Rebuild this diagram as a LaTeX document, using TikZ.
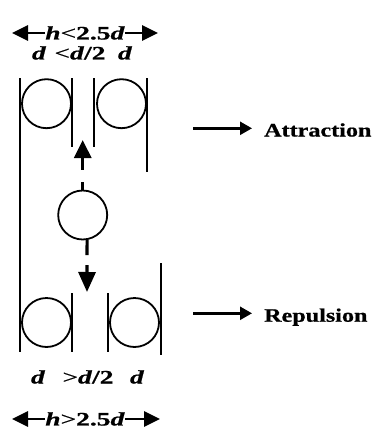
\documentclass[tikz,border=0pt]{standalone}
\usepackage{fontspec}
\setmainfont{Liberation Serif}[FakeStretch=1.27,FakeBold=0.8]
\newfontfamily\labfont{Liberation Serif}[FakeStretch=1.45,FakeBold=0.8]
\usetikzlibrary{arrows.meta}
\begin{document}
\begin{tikzpicture}[x=1pt,y=-1pt,
  wall/.style={line width=2pt},
  ball/.style={circle,draw,line width=1.8pt,minimum size=49pt,inner sep=0pt},
  lbl/.style={font=\fontsize{19}{22}\selectfont\bfseries,inner sep=0pt},
  dlbl/.style={font=\labfont\fontsize{19}{22}\selectfont\bfseries,inner sep=0pt},
  dimarrow/.style={line width=2.8pt,-{Triangle[length=16pt,width=15pt]}},
  forcearrow/.style={line width=2.4pt,-{Triangle[length=12pt,width=13pt]}},
  moveup/.style={line width=3pt,-{Triangle[length=18pt,width=17pt]}},
  movedown/.style={line width=3.2pt,-{Triangle[length=20pt,width=17pt]}}
]
\useasboundingbox (0,0) rectangle (373,431);
% top dimension
\node[dlbl] (t1) at (85,33) {\textit{h}{\mdseries<}2.5\textit{d}};
\coordinate (t1l) at (12,33);
\coordinate (t1r) at (158,33);
\draw[dimarrow] (t1.west) -- (t1l);
\draw[dimarrow] (t1.east) -- (t1r);
\node[dlbl] (ta) at (39,53) {\textit{d}};
\node[dlbl] (tb) at (80,53) {{\mdseries<}\textit{d}/2};
\node[dlbl] (tc) at (125,53) {\textit{d}};
% walls
\draw[wall] (20,78) -- (20,352);
\draw[wall] (72,78) -- (72,147);
\draw[wall] (94,78) -- (94,147);
\draw[wall] (146.5,78) -- (146.5,172);
\draw[wall] (72,293) -- (72,352);
\draw[wall] (107.5,293) -- (107.5,352);
\draw[wall] (160.5,263) -- (160.5,355);
% balls
\node[ball] (c1) at (46.5,103.7) {};
\node[ball] (c2) at (121.5,103.7) {};
\node[ball] (m) at (82.7,215) {};
\node[ball] (c3) at (46.5,322.5) {};
\node[ball] (c4) at (134.5,322.5) {};
% motion arrows
\coordinate (up) at (82.7,140);
\coordinate (dn) at (87,292);
\draw[moveup,dash pattern=on 8pt off 12pt on 30pt off 1pt] (m.north) -- (up);
\draw[movedown,dash pattern=on 15pt off 10pt on 30pt off 1pt] (m.-80) -- (dn);
% force labels
\node[lbl,anchor=base west] (att) at (264,136.5) {Attraction};
\node[lbl,anchor=base west] (rep) at (264,321.7) {Repulsion};
\coordinate (a1) at (193,128.3);
\coordinate (r1) at (193,313.3);
\draw[forcearrow,shorten >=12pt] (a1) -- (a1 -| att.west);
\draw[forcearrow,shorten >=12pt] (r1) -- (r1 -| rep.west);
% bottom labels
\node[dlbl] (ba) at (38,377) {\textit{d}};
\node[dlbl] (bb) at (88,377) {{\mdseries>}\textit{d}/2};
\node[dlbl] (bc) at (137,377) {\textit{d}};
\node[dlbl] (t2) at (85,419) {\textit{h}{\mdseries>}2.5\textit{d}};
\coordinate (t2l) at (12,419);
\coordinate (t2r) at (160,419);
\draw[dimarrow] (t2.west) -- (t2l);
\draw[dimarrow] (t2.east) -- (t2r);
\end{tikzpicture}
\end{document}
